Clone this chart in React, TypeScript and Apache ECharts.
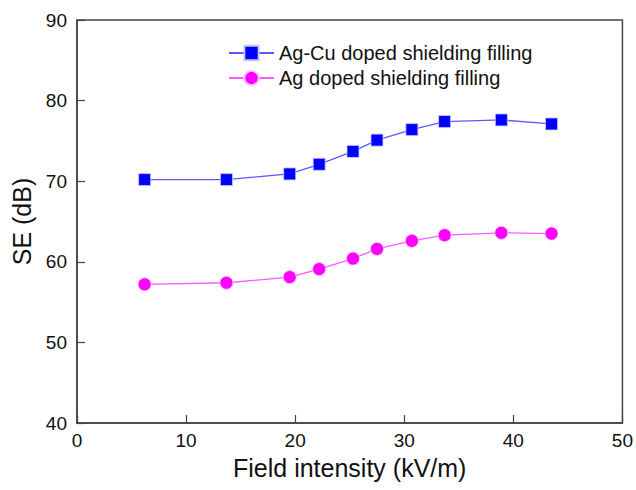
import React, { useEffect, useRef } from "react";
import * as echarts from "echarts";

const fieldAgCu = [6.2, 13.7, 19.5, 22.2, 25.3, 27.5, 30.7, 33.7, 38.9, 43.5];
const seAgCu = [70.2, 70.2, 70.9, 72.1, 73.7, 75.1, 76.4, 77.4, 77.6, 77.1];
const fieldAg = [6.2, 13.7, 19.5, 22.2, 25.3, 27.5, 30.7, 33.7, 38.9, 43.5];
const seAg = [57.2, 57.4, 58.1, 59.1, 60.4, 61.6, 62.6, 63.3, 63.6, 63.5];
const seriesNames = ["Ag-Cu doped shielding filling", "Ag doped shielding filling"];

const FONT = "'Liberation Sans', Arial, sans-serif";

export default function App() {
  const ref = useRef<HTMLDivElement>(null);
  useEffect(() => {
    document.body.style.margin = "0";
    document.body.style.overflow = "hidden";
    if (!ref.current) return;
    const chart = echarts.init(ref.current, undefined, { renderer: "svg" });
    const axisLine = { show: true, lineStyle: { color: "#444", width: 1.5 } };
    const axisTick = { show: true, inside: true, length: 8, lineStyle: { color: "#444", width: 1.2 } };
    chart.setOption({
      animation: false,
      backgroundColor: "#fff",
      textStyle: { fontFamily: FONT },
      grid: {
        left: 77,
        right: 13,
        top: 20,
        bottom: 67,
        show: true,
        borderColor: "#444",
        borderWidth: 1.5,
      },
      legend: {
        orient: "vertical",
        left: 228,
        top: 43,
        padding: 0,
        itemWidth: 45,
        itemHeight: 18,
        itemGap: 5,
        textStyle: { fontFamily: FONT, fontSize: 20, lineHeight: 20, color: "#111" },
        data: seriesNames,
      },
      xAxis: {
        type: "value",
        min: 0,
        max: 50,
        interval: 10,
        name: "Field intensity (kV/m)",
        nameLocation: "middle",
        nameGap: 32,
        nameTextStyle: { fontFamily: FONT, fontSize: 25, color: "#111" },
        axisLine,
        axisTick,
        axisLabel: { fontFamily: FONT, fontSize: 19, color: "#111", margin: 8 },
        splitLine: { show: false },
      },
      yAxis: {
        type: "value",
        min: 40,
        max: 90,
        interval: 10,
        name: "SE (dB)",
        nameLocation: "middle",
        nameGap: 42,
        nameTextStyle: { fontFamily: FONT, fontSize: 25, color: "#111" },
        axisLine,
        axisTick,
        axisLabel: { fontFamily: FONT, fontSize: 19, color: "#111", margin: 10 },
        splitLine: { show: false },
      },
      series: [
        {
          name: seriesNames[0],
          type: "line",
          data: fieldAgCu.map((x, i) => [x, seAgCu[i]]),
          symbol: "rect",
          symbolSize: 12,
          lineStyle: { color: "#5a5aff", width: 1.3 },
          itemStyle: { color: "#0000ff", borderColor: "#c8c8ff", borderWidth: 0.8 },
        },
        {
          name: seriesNames[1],
          type: "line",
          data: fieldAg.map((x, i) => [x, seAg[i]]),
          symbol: "circle",
          symbolSize: 13,
          lineStyle: { color: "#ff5aff", width: 1.3 },
          itemStyle: { color: "#ff00ff", borderColor: "#ffc8ff", borderWidth: 0.8 },
        },
      ],
    });
    return () => chart.dispose();
  }, []);
  return <div ref={ref} style={{ width: 636, height: 490 }} />;
}
